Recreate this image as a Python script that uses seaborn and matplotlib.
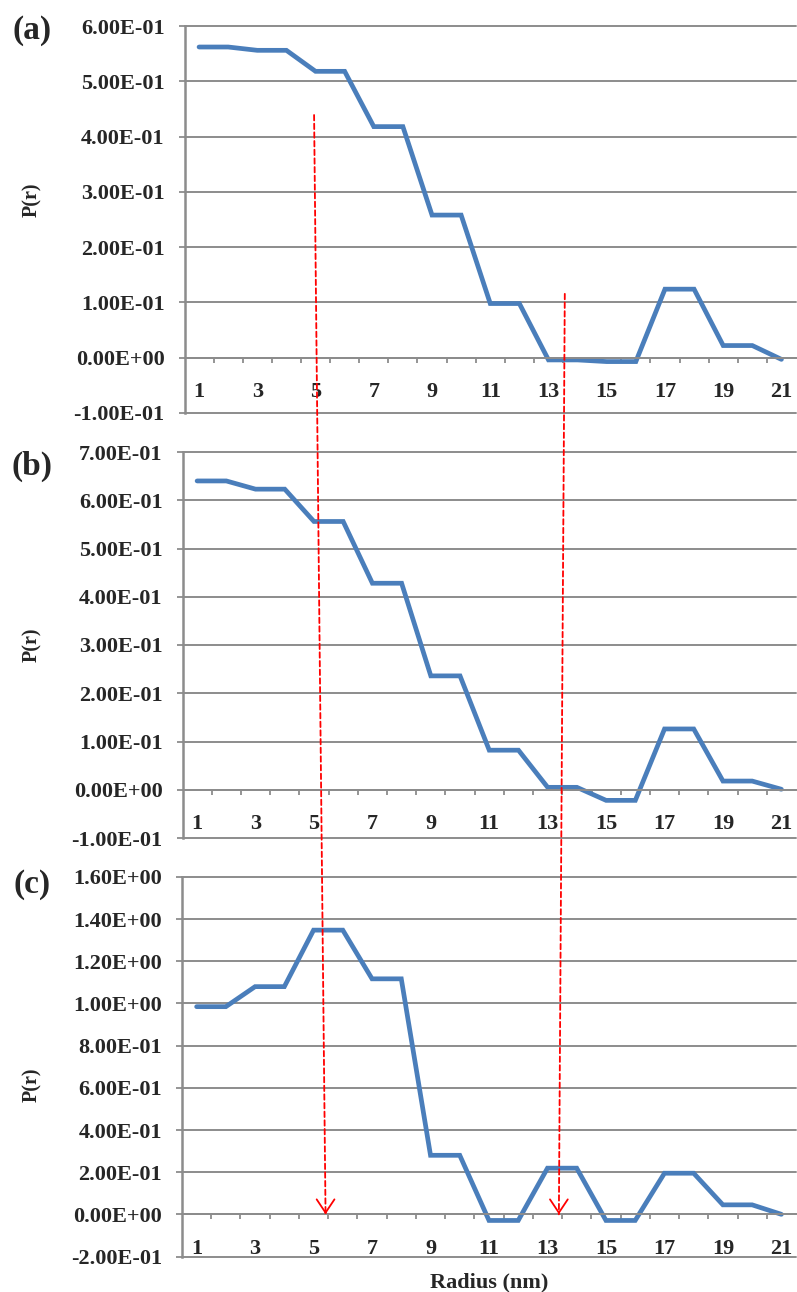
import matplotlib
matplotlib.use("Agg")
import matplotlib.pyplot as plt
import numpy as np
import pandas as pd
import seaborn as sns
from matplotlib.ticker import FuncFormatter, MultipleLocator
from matplotlib.patches import ConnectionPatch

# Pair distribution functions P(r) against radius (nm) for three samples
radius = list(range(1, 22))
pr_a = [0.562, 0.562, 0.556, 0.556, 0.518, 0.518, 0.418, 0.418, 0.258, 0.258,
        0.098, 0.098, -0.004, -0.004, -0.007, -0.007, 0.124, 0.124, 0.022, 0.022,
        -0.003]
pr_b = [0.640, 0.640, 0.623, 0.623, 0.556, 0.556, 0.428, 0.428, 0.236, 0.236,
        0.082, 0.082, 0.005, 0.005, -0.022, -0.022, 0.126, 0.126, 0.018, 0.018,
        0.001]
pr_c = [0.985, 0.985, 1.080, 1.080, 1.348, 1.348, 1.117, 1.117, 0.280, 0.280,
        -0.029, -0.029, 0.219, 0.219, -0.029, -0.029, 0.195, 0.195, 0.045, 0.045,
        0.000]
panel_labels = ["(a)", "(b)", "(c)"]
y_ranges = [(-0.1, 0.6, 0.1), (-0.1, 0.7, 0.1), (-0.2, 1.6, 0.2)]
x_tick_labels = [str(v) for v in range(1, 22, 2)]

sns.set_style("white")
plt.rcParams["font.family"] = ["Liberation Serif", "DejaVu Serif"]
plt.rcParams["font.weight"] = "bold"

LINE = "#4a7ebb"
GRID = "#8c8c8c"
W, H = 797, 1292
fig = plt.figure(figsize=(W / 100, H / 100), dpi=100)

# axes boxes in pixels: left, top, bottom (right edge runs to the figure edge)
boxes = [(184.5, 26, 413), (182.5, 452, 838), (182.0, 877, 1256.5)]
ylabel_y = [200, 645, 1085]
panel_y = [31, 466, 885]

axes = []
for i, (vals, (ymin, ymax, step)) in enumerate(zip([pr_a, pr_b, pr_c], y_ranges)):
    left, top, bottom = boxes[i]
    ax = fig.add_axes([left / W, 1 - bottom / H, (W - 1 - left) / W, (bottom - top) / H])
    df = pd.DataFrame({"Radius": radius, "P": vals})
    sns.lineplot(data=df, x="Radius", y="P", ax=ax, color=LINE, lw=3.4,
                 solid_joinstyle="miter", solid_capstyle="round")
    ax.set_xlim(0.5, 21.5)
    ax.set_ylim(ymin, ymax)
    ax.yaxis.set_major_locator(MultipleLocator(step))
    ax.yaxis.set_major_formatter(FuncFormatter(lambda v, p: f"{v:.2E}".replace("-0.00", "0.00")))
    ax.grid(axis="y", color=GRID, lw=1.4)
    ax.grid(axis="x", visible=False)
    for gl in ax.get_ygridlines():
        gl.set_clip_on(False)
    for s in ["top", "right"]:
        ax.spines[s].set_visible(False)
    ax.spines["left"].set_color(GRID)
    ax.spines["left"].set_linewidth(1.8)
    ax.spines["bottom"].set_position(("data", 0))
    ax.spines["bottom"].set_color(GRID)
    ax.spines["bottom"].set_linewidth(1.4)

    # category boundaries carry the tick marks, labels sit at odd categories
    ax.set_xticks(np.arange(1.5, 21, 1.0))
    ax.set_xticklabels([])
    ax.set_xticks(list(range(1, 22, 2)), x_tick_labels, minor=True)
    ax.tick_params(axis="x", which="major", direction="out", length=3.8,
                   width=1.3, color=GRID, bottom=True)
    ax.tick_params(axis="x", which="minor", length=0, pad=17.5,
                   labelsize=16, bottom=True)
    ax.tick_params(axis="y", direction="out", length=4.3, width=1.3,
                   color=GRID, left=True, pad=10, labelsize=16)
    for lab in ax.get_xticklabels(minor=True) + ax.get_yticklabels():
        lab.set_fontweight("bold")

    ax.set_xlabel("")
    ax.set_ylabel("P(r)", fontsize=14.5, fontweight="bold")
    ax.yaxis.set_label_coords((42 - left) / (W - 1 - left), (bottom - ylabel_y[i]) / (bottom - top))
    fig.text(32 / W, 1 - panel_y[i] / H, panel_labels[i], fontsize=24,
             fontweight="bold", ha="center", va="center")
    axes.append(ax)

fig.text(489.5 / W, 1 - 1282 / H, "Radius (nm)", fontsize=16,
         fontweight="bold", ha="center", va="center")

# dashed guides running from panel (a) down to panel (c)
guides = [((4.95, 0.439), (5.41, 0.0)), ((13.56, 0.1155), (13.39, 0.0))]
for (xa, ya), (xc, yc) in guides:
    con = ConnectionPatch(xyA=(xa, ya), coordsA=axes[0].transData,
                          xyB=(xc, yc), coordsB=axes[2].transData,
                          arrowstyle="-", color="red", lw=1.3,
                          linestyle=(0, (3, 1.8)), zorder=5)
    fig.add_artist(con)
    axes[2].annotate("", xy=(xc, yc), xytext=(0, 1.5), textcoords="offset points",
                     arrowprops=dict(arrowstyle="->,head_length=0.48,head_width=0.32",
                                     color="red", lw=1.3, mutation_scale=20,
                                     shrinkA=0, shrinkB=0),
                     annotation_clip=False, zorder=6)

fig.savefig("out.png", dpi=100)
